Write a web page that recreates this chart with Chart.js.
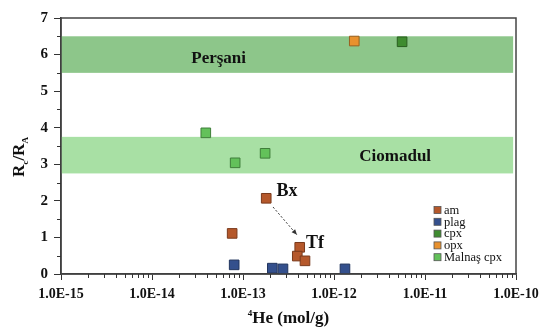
<!DOCTYPE html>
<html>
<head>
<meta charset="utf-8">
<script src="https://cdn.jsdelivr.net/npm/chart.js@4"></script>
<style>
  html, body { margin: 0; padding: 0; background: #fff; }
  #wrap { width: 543px; height: 331px; }
</style>
</head>
<body>
<div id="wrap"><canvas id="chart"></canvas></div>
<script>
// helium concentration (mol/g) and R/Ra for each mineral group
const amHe = [1.8e-13, 7.6e-14, 4.2e-13, 3.95e-13, 4.8e-13];
const amR = [2.07, 1.11, 0.73, 0.49, 0.36];
const plagHe = [8.0e-14, 2.1e-13, 2.75e-13, 1.32e-12];
const plagR = [0.25, 0.16, 0.14, 0.14];
const cpxHe = [5.6e-12];
const cpxR = [6.35];
const opxHe = [1.67e-12];
const opxR = [6.37];
const malnasHe = [3.9e-14, 8.2e-14, 1.75e-13];
const malnasR = [3.86, 3.04, 3.3];

const seriesNames = ["am", "plag", "cpx", "opx", "Malnaş cpx"];
const xTicks = [1e-15, 1e-14, 1e-13, 1e-12, 1e-11, 1e-10];
const yTicks = [0, 1, 2, 3, 4, 5, 6, 7];

// reference ranges (R/Ra)
const bandNames = ["Perşani", "Ciomadul"];
const bandRanges = [[5.5, 6.5], [2.75, 3.75]];

const serif = "'Liberation Serif', 'Times New Roman', serif";

function pts(xs, ys) {
  return xs.map((x, i) => ({ x: x, y: ys[i] }));
}

const fills = ["#b5582b", "#34508d", "#3f8c30", "#e8912e", "#63c15a"];
const edges = ["#7a3a1c", "#22355e", "#2a5e20", "#9a6020", "#3f7e3a"];
const groups = [[amHe, amR], [plagHe, plagR], [cpxHe, cpxR], [opxHe, opxR], [malnasHe, malnasR]];

const datasets = seriesNames.map((name, i) => ({
  label: name,
  data: pts(groups[i][0], groups[i][1]),
  backgroundColor: fills[i],
  borderColor: edges[i],
  borderWidth: 1,
  pointStyle: "rect",
  pointRadius: 6.8,
  pointHoverRadius: 6.8,
  clip: false,
}));

const bandColors = ["#8dc68a", "#a8e0a4"];

const decor = {
  id: "decor",
  beforeDatasetsDraw(chart) {
    const { ctx, chartArea: a, scales: { x, y } } = chart;
    ctx.save();
    bandRanges.forEach((r, i) => {
      const top = y.getPixelForValue(r[1]);
      const bot = y.getPixelForValue(r[0]);
      const right = x.getPixelForValue(9.3e-11);
      ctx.fillStyle = bandColors[i];
      ctx.fillRect(a.left, top, right - a.left, bot - top);
    });
    ctx.fillStyle = "#111";
    ctx.textAlign = "center";
    ctx.textBaseline = "middle";
    ctx.font = "bold 17px " + serif;
    ctx.fillText(bandNames[0], x.getPixelForValue(5.4e-14), y.getPixelForValue(5.9));
    ctx.fillText(bandNames[1], x.getPixelForValue(4.7e-12), y.getPixelForValue(3.2));
    ctx.restore();
  },
  afterDraw(chart) {
    const { ctx, chartArea: a, scales: { x, y } } = chart;
    ctx.save();
    // frame
    ctx.strokeStyle = "#444";
    ctx.lineWidth = 1.5;
    ctx.strokeRect(a.left, a.top, a.right - a.left, a.bottom - a.top);

    // minor ticks
    ctx.strokeStyle = "#333";
    ctx.lineWidth = 1;
    ctx.beginPath();
    for (let d = 1e-15; d < 1e-10; d *= 10) {
      for (let m = 2; m <= 9; m++) {
        const px = Math.round(x.getPixelForValue(d * m)) + 0.5;
        ctx.moveTo(px, a.bottom);
        ctx.lineTo(px, a.bottom + 4);
      }
    }
    for (let v = 0.5; v < 7; v += 1) {
      const py = Math.round(y.getPixelForValue(v)) + 0.5;
      ctx.moveTo(a.left, py);
      ctx.lineTo(a.left - 4, py);
    }
    ctx.stroke();

    // Bx -> Tf arrow
    const x0 = x.getPixelForValue(2.14e-13), y0 = y.getPixelForValue(1.83);
    const x1 = x.getPixelForValue(3.92e-13), y1 = y.getPixelForValue(1.07);
    ctx.strokeStyle = "#333";
    ctx.setLineDash([2, 2]);
    ctx.beginPath();
    ctx.moveTo(x0, y0);
    ctx.lineTo(x1, y1);
    ctx.stroke();
    ctx.setLineDash([]);
    const ang = Math.atan2(y1 - y0, x1 - x0);
    ctx.fillStyle = "#333";
    ctx.beginPath();
    ctx.moveTo(x1, y1);
    ctx.lineTo(x1 - 6 * Math.cos(ang - 0.4), y1 - 6 * Math.sin(ang - 0.4));
    ctx.lineTo(x1 - 6 * Math.cos(ang + 0.4), y1 - 6 * Math.sin(ang + 0.4));
    ctx.closePath();
    ctx.fill();

    ctx.fillStyle = "#111";
    ctx.textAlign = "center";
    ctx.textBaseline = "middle";
    ctx.font = "bold 18px " + serif;
    ctx.fillText("Bx", x.getPixelForValue(3.05e-13), y.getPixelForValue(2.27));
    ctx.fillText("Tf", x.getPixelForValue(6.2e-13), y.getPixelForValue(0.85));

    // legend
    ctx.font = "12.5px " + serif;
    ctx.textAlign = "left";
    chart.data.datasets.forEach((ds, i) => {
      const ly = 210 + i * 11.8;
      ctx.fillStyle = ds.backgroundColor;
      ctx.fillRect(434, ly - 3.5, 7, 7);
      ctx.strokeStyle = "#555";
      ctx.lineWidth = 0.8;
      ctx.strokeRect(434, ly - 3.5, 7, 7);
      ctx.fillStyle = "#111";
      ctx.fillText(ds.label, 444, ly + 0.5);
    });

    // axis titles
    const cx = (a.left + a.right) / 2;
    ctx.textBaseline = "alphabetic";
    ctx.font = "bold 17px " + serif;
    const he = "He (mol/g)";
    const wHe = ctx.measureText(he).width;
    ctx.font = "bold 9px " + serif;
    const w4 = ctx.measureText("4").width;
    const sx = cx - (wHe + w4) / 2;
    ctx.fillText("4", sx, 316);
    ctx.font = "bold 17px " + serif;
    ctx.fillText(he, sx + w4, 323);

    ctx.translate(24, 157);
    ctx.rotate(-Math.PI / 2);
    const parts = [["R", 17, 0], ["c", 9, 4], ["/R", 17, 0], ["A", 9, 4]];
    let total = 0;
    parts.forEach(p => { ctx.font = "bold " + p[1] + "px " + serif; total += ctx.measureText(p[0]).width; });
    let px = -total / 2;
    parts.forEach(p => {
      ctx.font = "bold " + p[1] + "px " + serif;
      ctx.fillText(p[0], px, p[2]);
      px += ctx.measureText(p[0]).width;
    });
    ctx.restore();
  }
};

new Chart(document.getElementById("chart"), {
  type: "scatter",
  data: { datasets: datasets },
  options: {
    responsive: true,
    maintainAspectRatio: false,
    animation: false,
    layout: { padding: { top: 18, right: 27, left: 0, bottom: 0 } },
    plugins: { legend: { display: false }, tooltip: { enabled: false } },
    scales: {
      x: {
        type: "logarithmic",
        min: 1e-15,
        max: 1e-10,
        afterBuildTicks(scale) {
          scale.ticks = xTicks.map(v => ({ value: v }));
        },
        afterFit(scale) {
          scale.height = 57;
          scale.paddingLeft = 0;
          scale.paddingRight = 0;
        },
        border: { color: "#333", width: 1.5 },
        grid: { drawOnChartArea: false, tickLength: 6, color: "#333" },
        ticks: {
          padding: 6,
          maxRotation: 0,
          color: "#111",
          font: { family: serif, size: 14, weight: "bold" },
          callback: v => Number(v).toExponential(1).toUpperCase(),
        },
      },
      y: {
        min: 0,
        max: 7,
        afterBuildTicks(scale) {
          scale.ticks = yTicks.map(v => ({ value: v }));
        },
        afterFit(scale) {
          scale.width = 61;
          scale.paddingTop = 0;
          scale.paddingBottom = 0;
        },
        border: { color: "#333", width: 1.5 },
        grid: { drawOnChartArea: false, tickLength: 7, color: "#333" },
        ticks: {
          padding: 6,
          color: "#111",
          font: { family: serif, size: 15, weight: "bold" },
        },
      },
    },
  },
  plugins: [decor],
});
</script>
</body>
</html>
